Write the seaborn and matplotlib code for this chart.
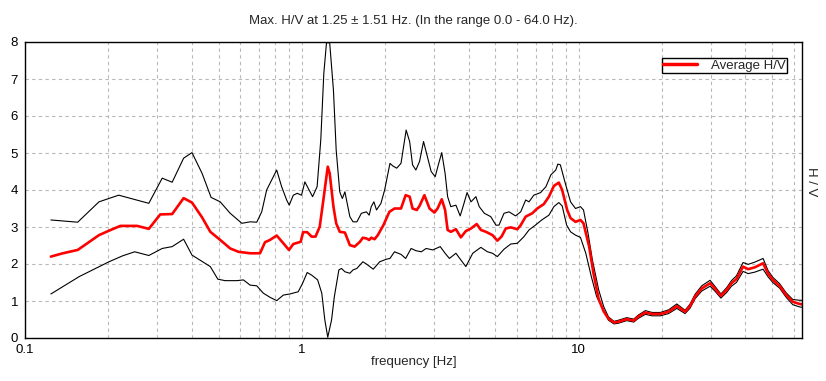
import numpy as np
import pandas as pd
import matplotlib
matplotlib.use("Agg")
import matplotlib.pyplot as plt
from matplotlib.ticker import FixedLocator, FuncFormatter, NullFormatter, LogLocator
import seaborn as sns

# ---------------- data ----------------
avg_freq = [0.124, 0.137, 0.155, 0.185, 0.201, 0.221, 0.254, 0.280, 0.308, 0.340,
            0.374, 0.401, 0.436, 0.467, 0.507, 0.551, 0.590, 0.650, 0.706, 0.736,
            0.767, 0.811, 0.857, 0.898, 0.931, 0.99, 1.01, 1.045, 1.084, 1.12,
            1.16, 1.20, 1.24, 1.26, 1.30, 1.33, 1.37, 1.43, 1.49, 1.55,
            1.62, 1.66, 1.71, 1.75, 1.78, 1.83, 1.88, 1.97, 2.07, 2.16,
            2.28, 2.37, 2.45, 2.51, 2.60, 2.66, 2.77, 2.89, 3.01, 3.09,
            3.20, 3.29, 3.36, 3.45, 3.60, 3.75, 3.91, 4.08, 4.28, 4.43,
            4.62, 4.88, 5.08, 5.26, 5.45, 5.68, 6.00, 6.17, 6.43, 6.79,
            7.08, 7.48, 7.80, 8.13, 8.47, 8.71, 9.08, 9.34, 9.73, 10.14,
            10.4, 10.9, 11.3, 11.8, 12.3, 12.8, 13.4, 13.9, 14.9, 15.8,
            16.4, 17.4, 18.4, 19.7, 21.1, 22.6, 24.2, 25.2, 26.3, 27.8,
            29.8, 31.0, 32.6, 34.2, 35.6, 37.1, 39.2, 40.9, 43.2, 46.3,
            48.2, 50.2, 53.1, 56.1, 59.3, 62.7, 64.0]
avg_hv = [2.20, 2.29, 2.38, 2.78, 2.90, 3.03, 3.03, 2.95, 3.34, 3.35,
          3.78, 3.66, 3.26, 2.87, 2.65, 2.42, 2.33, 2.29, 2.29, 2.59,
          2.65, 2.77, 2.56, 2.38, 2.54, 2.60, 2.86, 2.86, 2.74, 2.74,
          3.01, 3.82, 4.63, 4.45, 3.55, 3.10, 2.87, 2.85, 2.51, 2.47,
          2.60, 2.71, 2.69, 2.65, 2.71, 2.67, 2.78, 3.05, 3.41, 3.50,
          3.50, 3.86, 3.82, 3.50, 3.46, 3.57, 3.86, 3.50, 3.39, 3.50,
          3.75, 3.46, 2.92, 2.87, 2.94, 2.72, 2.89, 2.96, 3.08, 2.92,
          2.87, 2.78, 2.63, 2.74, 2.96, 2.99, 2.94, 3.05, 3.28, 3.37,
          3.50, 3.62, 3.82, 4.11, 4.20, 4.00, 3.46, 3.24, 3.14, 3.19,
          3.10, 2.47, 1.75, 1.05, 0.72, 0.52, 0.42, 0.44, 0.51, 0.47,
          0.58, 0.69, 0.65, 0.65, 0.71, 0.86, 0.71, 0.86, 1.12, 1.34,
          1.48, 1.34, 1.14, 1.30, 1.48, 1.59, 1.93, 1.86, 1.91, 2.02,
          1.75, 1.57, 1.41, 1.16, 0.98, 0.92, 0.91]

upper_freq = [0.124, 0.155, 0.185, 0.218, 0.280, 0.313, 0.340, 0.374, 0.401, 0.436,
              0.470, 0.507, 0.551, 0.607, 0.650, 0.687, 0.716, 0.746, 0.778, 0.811,
              0.845, 0.881, 0.900, 0.931, 0.962, 0.997, 1.025, 1.053, 1.093, 1.135,
              1.17, 1.20, 1.227, 1.26, 1.30, 1.33, 1.37, 1.40, 1.43, 1.49,
              1.53, 1.58, 1.64, 1.71, 1.75, 1.78, 1.82, 1.86, 1.93, 1.99,
              2.08, 2.13, 2.20, 2.28, 2.38, 2.45, 2.51, 2.58, 2.66, 2.75,
              2.85, 2.93, 3.03, 3.11, 3.20, 3.29, 3.36, 3.45, 3.60, 3.73,
              3.85, 3.95, 4.08, 4.25, 4.37, 4.56, 4.81, 5.02, 5.15, 5.37,
              5.60, 5.91, 6.17, 6.43, 6.61, 6.88, 7.28, 7.61, 7.93, 8.26,
              8.40, 8.58, 8.94, 9.34, 9.73, 10.14, 10.4, 10.8, 11.2, 11.8,
              12.3, 12.8, 13.4, 13.9, 14.9, 15.8, 16.4, 17.4, 18.4, 19.7,
              21.1, 22.6, 24.2, 25.2, 26.3, 27.8, 29.8, 31.0, 32.6, 34.2,
              35.6, 37.1, 39.2, 40.9, 43.2, 46.3, 48.2, 50.2, 53.1, 56.1,
              59.3, 62.7, 64.0]
upper_hv = [3.19, 3.13, 3.68, 3.86, 3.64, 4.32, 4.21, 4.86, 5.01, 4.45,
            3.80, 3.68, 3.37, 3.10, 3.14, 3.13, 3.41, 4.00, 4.27, 4.54,
            4.09, 3.73, 3.59, 3.86, 3.91, 3.86, 4.22, 4.05, 3.82, 4.09,
            5.35, 7.15, 7.98, 7.98, 6.70, 5.08, 3.95, 3.77, 3.95, 3.28,
            3.14, 3.14, 3.37, 3.41, 3.32, 3.55, 3.68, 3.46, 3.64, 4.00,
            4.72, 4.65, 4.59, 4.72, 5.62, 5.31, 4.68, 4.54, 4.77, 5.31,
            4.86, 4.50, 4.36, 4.68, 5.01, 4.45, 3.82, 3.55, 3.59, 3.30,
            3.64, 3.93, 3.68, 3.82, 3.55, 3.37, 3.28, 3.05, 3.05, 3.37,
            3.41, 3.30, 3.41, 3.73, 3.68, 3.86, 3.93, 4.09, 4.41, 4.54,
            4.70, 4.68, 4.18, 3.68, 3.50, 3.55, 3.46, 2.83, 2.11, 1.30,
            0.85, 0.57, 0.45, 0.48, 0.55, 0.51, 0.62, 0.74, 0.69, 0.69,
            0.76, 0.92, 0.75, 0.91, 1.18, 1.41, 1.56, 1.40, 1.19, 1.36,
            1.55, 1.68, 2.04, 1.99, 2.05, 2.15, 1.83, 1.64, 1.47, 1.22,
            1.04, 1.02, 1.02]

lower_freq = [0.124, 0.157, 0.201, 0.225, 0.249, 0.280, 0.313, 0.340, 0.374, 0.401,
              0.467, 0.497, 0.528, 0.582, 0.615, 0.650, 0.687, 0.726, 0.767, 0.811,
              0.857, 0.905, 0.970, 1.006, 1.045, 1.084, 1.11, 1.14, 1.18, 1.21,
              1.24, 1.28, 1.31, 1.36, 1.39, 1.43, 1.49, 1.53, 1.58, 1.66,
              1.71, 1.81, 1.91, 2.02, 2.08, 2.16, 2.28, 2.37, 2.48, 2.58,
              2.70, 2.81, 2.97, 3.16, 3.29, 3.41, 3.60, 3.75, 3.91, 4.14,
              4.43, 4.68, 4.88, 5.08, 5.37, 5.68, 6.00, 6.34, 6.61, 6.97,
              7.35, 7.80, 8.13, 8.47, 8.71, 9.04, 9.34, 9.73, 10.14, 10.6,
              11.1, 11.6, 12.2, 12.8, 13.4, 13.9, 14.9, 15.8, 16.4, 17.4,
              18.4, 19.7, 21.1, 22.6, 24.2, 25.2, 26.3, 27.8, 29.8, 31.0,
              32.6, 34.2, 35.6, 37.1, 39.2, 40.9, 43.2, 46.3, 48.2, 50.2,
              53.1, 56.1, 59.3, 62.7, 64.0]
lower_hv = [1.19, 1.66, 2.06, 2.22, 2.33, 2.23, 2.42, 2.47, 2.67, 2.24,
            1.93, 1.59, 1.55, 1.55, 1.57, 1.43, 1.41, 1.21, 1.10, 1.01,
            1.16, 1.19, 1.25, 1.48, 1.77, 1.70, 1.64, 1.57, 1.21, 0.49,
            0.02, 0.49, 1.12, 1.84, 1.88, 1.79, 1.75, 1.84, 1.88, 2.06,
            2.00, 1.86, 2.06, 2.13, 2.15, 2.33, 2.26, 2.15, 2.42, 2.36,
            2.33, 2.42, 2.38, 2.47, 2.29, 2.15, 2.29, 2.11, 1.93, 2.29,
            2.45, 2.33, 2.29, 2.20, 2.40, 2.54, 2.56, 2.74, 2.92, 3.05,
            3.19, 3.32, 3.55, 3.66, 3.57, 3.05, 2.87, 2.78, 2.72, 2.29,
            1.66, 1.12, 0.80, 0.48, 0.38, 0.40, 0.47, 0.43, 0.53, 0.64,
            0.60, 0.60, 0.66, 0.80, 0.66, 0.80, 1.06, 1.27, 1.40, 1.27,
            1.08, 1.23, 1.40, 1.50, 1.80, 1.74, 1.78, 1.86, 1.66, 1.50,
            1.35, 1.10, 0.90, 0.84, 0.83]

x_tick_values = [0.1, 1, 10]
y_tick_values = [0, 1, 2, 3, 4, 5, 6, 7, 8]
title_text = "Max. H/V at 1.25 \u00b1 1.51 Hz. (In the range 0.0 - 64.0 Hz)."
x_label = "frequency [Hz]"
y_label = "H / V"
legend_label = "Average H/V"

# ---------------- plot ----------------
sns.set_style("white")
plt.rcParams["font.family"] = ["Liberation Sans", "DejaVu Sans"]
FS = 9.5

fig = plt.figure(figsize=(8.26, 3.81), dpi=100)
ax = fig.add_axes([25 / 826, 1 - 338 / 381, 777 / 826, 296 / 381])

df_up = pd.DataFrame({"f": upper_freq, "hv": upper_hv})
df_lo = pd.DataFrame({"f": lower_freq, "hv": lower_hv})
df_avg = pd.DataFrame({"f": avg_freq, "hv": avg_hv})

sns.lineplot(data=df_up, x="f", y="hv", ax=ax, color="black", linewidth=0.8,
             sort=False, estimator=None, legend=False)
sns.lineplot(data=df_lo, x="f", y="hv", ax=ax, color="black", linewidth=0.8,
             sort=False, estimator=None, legend=False)
sns.lineplot(data=df_avg, x="f", y="hv", ax=ax, color="#ff0000", linewidth=1.9,
             sort=False, estimator=None, label=legend_label)

ax.set_xscale("log")
ax.set_xlim(0.1, 64)
ax.set_ylim(0, 8)

ax.xaxis.set_major_locator(FixedLocator(x_tick_values))
ax.xaxis.set_major_formatter(FuncFormatter(lambda v, p: "%g" % v))
ax.xaxis.set_minor_locator(LogLocator(base=10, subs=np.arange(2, 10)))
ax.xaxis.set_minor_formatter(NullFormatter())
ax.set_yticks(y_tick_values)

ax.grid(True, which="both", color="#b8b8b8", linestyle=(0, (3, 3)), linewidth=0.8)
ax.set_axisbelow(True)
ax.tick_params(axis="both", which="both", length=0, labelsize=FS, colors="black")
ax.tick_params(axis="y", pad=5)
ax.tick_params(axis="x", pad=4)

for s in ax.spines.values():
    s.set_visible(True)
    s.set_color("black")
    s.set_linewidth(1.0)

ax.set_xlabel(x_label, fontsize=FS, labelpad=0)
ax.set_ylabel("")
fig.text(0.5, 1 - 21 / 381, title_text, ha="center", va="center", fontsize=FS)
fig.text(811 / 826, 1 - 182 / 381, y_label, rotation=-90, ha="center", va="center", fontsize=FS)

leg = ax.legend(loc="upper right", bbox_to_anchor=((787 - 25) / 777, (338 - 58) / 296),
                borderaxespad=0, fancybox=False, frameon=True, fontsize=FS,
                handlelength=2.6, handletextpad=1.0, borderpad=0.12, framealpha=1)
leg.get_frame().set_edgecolor("black")
leg.get_frame().set_linewidth(1.0)
for line in leg.get_lines():
    line.set_linewidth(2.5)

fig.savefig("out.png", dpi=100)
